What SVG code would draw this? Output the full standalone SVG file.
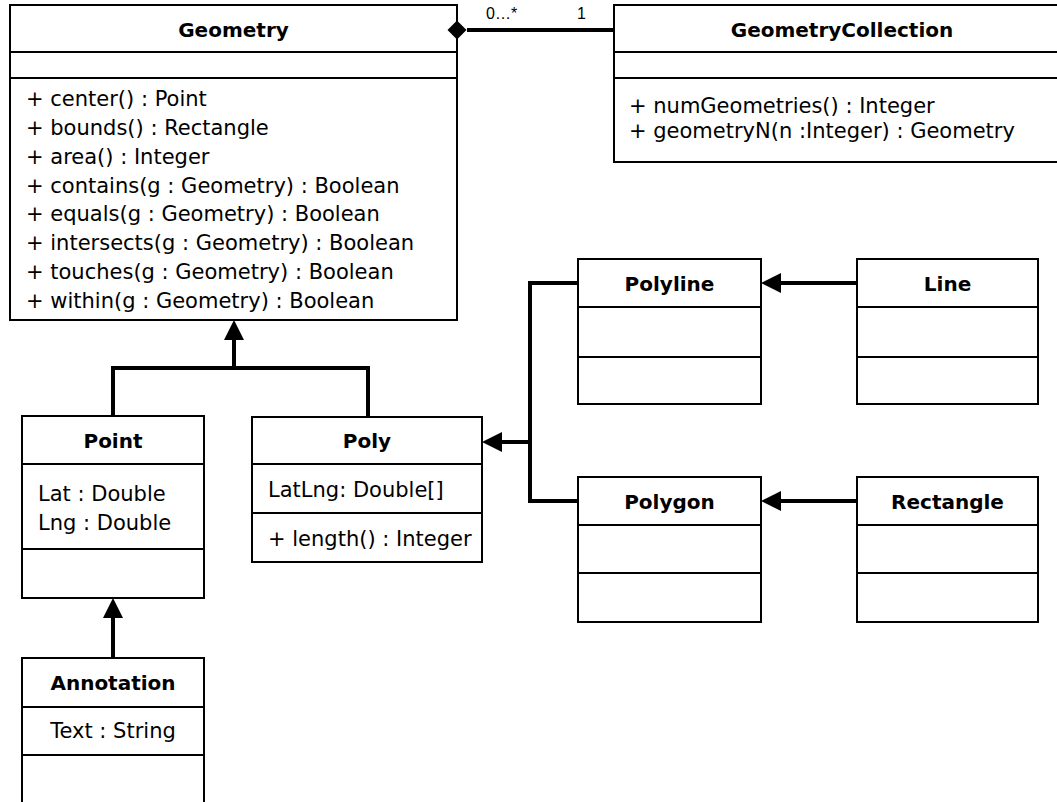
<svg xmlns="http://www.w3.org/2000/svg" width="1057" height="802" viewBox="0 0 1057 802">
  <style>
    .box { fill: #ffffff; stroke: #000000; stroke-width: 2; }
    .sep { stroke: #000000; stroke-width: 2; }
    .title { font-family: "DejaVu Sans", "Liberation Sans", sans-serif; font-weight: bold; font-size: 20px; fill: #000000; text-anchor: middle; }
    .member { font-family: "DejaVu Sans", "Liberation Sans", sans-serif; font-size: 21px; fill: #000000; }
    .mult { font-family: "Liberation Sans", Arial, sans-serif; font-size: 16px; fill: #000000; }
    .conn { fill: none; stroke: #000000; stroke-width: 4; }
  </style>
  <defs>
    <!-- solid triangular head for generalization links, drawn beyond the line end -->
    <marker id="head" viewBox="0 -10 20 20" refX="0" refY="0" markerWidth="20" markerHeight="20" markerUnits="userSpaceOnUse" orient="auto">
      <path d="M0,-10 L20,0 L0,10 z" fill="#000000"/>
    </marker>
  </defs>

  <rect width="1057" height="802" fill="#ffffff"/>

  <!-- Geometry -->
  <g id="geometry">
    <rect class="box" x="10" y="5" width="447" height="315"/>
    <line class="sep" x1="10" y1="52" x2="457" y2="52"/>
    <line class="sep" x1="10" y1="78" x2="457" y2="78"/>
    <text class="title" x="233.5" y="37">Geometry</text>
    <text class="member" x="26" y="106">+ center() : Point</text>
    <text class="member" x="26" y="135">+ bounds() : Rectangle</text>
    <text class="member" x="26" y="164">+ area() : Integer</text>
    <text class="member" x="26" y="193">+ contains(g : Geometry) : Boolean</text>
    <text class="member" x="26" y="221">+ equals(g : Geometry) : Boolean</text>
    <text class="member" x="26" y="250">+ intersects(g : Geometry) : Boolean</text>
    <text class="member" x="26" y="279">+ touches(g : Geometry) : Boolean</text>
    <text class="member" x="26" y="308">+ within(g : Geometry) : Boolean</text>
  </g>

  <!-- GeometryCollection -->
  <g id="geometry-collection">
    <rect class="box" x="614" y="5" width="456" height="157"/>
    <line class="sep" x1="614" y1="52" x2="1070" y2="52"/>
    <line class="sep" x1="614" y1="78" x2="1070" y2="78"/>
    <text class="title" x="842" y="37">GeometryCollection</text>
    <text class="member" x="629" y="113">+ numGeometries() : Integer</text>
    <text class="member" x="629" y="138">+ geometryN(n :Integer) : Geometry</text>
  </g>

  <!-- Point -->
  <g id="point">
    <rect class="box" x="22" y="416" width="182" height="182"/>
    <line class="sep" x1="22" y1="464" x2="204" y2="464"/>
    <line class="sep" x1="22" y1="549" x2="204" y2="549"/>
    <text class="title" x="113" y="448">Point</text>
    <text class="member" x="38" y="501">Lat : Double</text>
    <text class="member" x="38" y="530">Lng : Double</text>
  </g>

  <!-- Poly -->
  <g id="poly">
    <rect class="box" x="252" y="417" width="230" height="145"/>
    <line class="sep" x1="252" y1="464" x2="482" y2="464"/>
    <line class="sep" x1="252" y1="513" x2="482" y2="513"/>
    <text class="title" x="367" y="448">Poly</text>
    <text class="member" x="268" y="497">LatLng: Double[]</text>
    <text class="member" x="268" y="546">+ length() : Integer</text>
  </g>

  <!-- Annotation -->
  <g id="annotation">
    <rect class="box" x="22" y="658" width="182" height="170"/>
    <line class="sep" x1="22" y1="707" x2="204" y2="707"/>
    <line class="sep" x1="22" y1="755" x2="204" y2="755"/>
    <text class="title" x="113" y="690">Annotation</text>
    <text class="member" x="113" y="738" text-anchor="middle">Text : String</text>
  </g>

  <!-- Polyline -->
  <g id="polyline">
    <rect class="box" x="578" y="259" width="183" height="145"/>
    <line class="sep" x1="578" y1="307" x2="761" y2="307"/>
    <line class="sep" x1="578" y1="357" x2="761" y2="357"/>
    <text class="title" x="669.5" y="291">Polyline</text>
  </g>

  <!-- Line -->
  <g id="line">
    <rect class="box" x="857" y="259" width="181" height="145"/>
    <line class="sep" x1="857" y1="307" x2="1038" y2="307"/>
    <line class="sep" x1="857" y1="357" x2="1038" y2="357"/>
    <text class="title" x="947.5" y="291">Line</text>
  </g>

  <!-- Polygon -->
  <g id="polygon">
    <rect class="box" x="578" y="477" width="183" height="145"/>
    <line class="sep" x1="578" y1="525" x2="761" y2="525"/>
    <line class="sep" x1="578" y1="573" x2="761" y2="573"/>
    <text class="title" x="669.5" y="509">Polygon</text>
  </g>

  <!-- Rectangle -->
  <g id="rectangle">
    <rect class="box" x="857" y="477" width="181" height="145"/>
    <line class="sep" x1="857" y1="525" x2="1038" y2="525"/>
    <line class="sep" x1="857" y1="573" x2="1038" y2="573"/>
    <text class="title" x="947.5" y="509">Rectangle</text>
  </g>

  <!-- connectors, drawn over the class boxes so the diamond stays visible -->
  <g id="connectors">
    <path class="conn" d="M467,30 H614"/>
    <polygon points="447.5,30 457,20.5 466.5,30 457,39.5" fill="#000000"/>
    <text class="mult" x="486" y="19">0…*</text>
    <text class="mult" x="577" y="19">1</text>

    <path class="conn" d="M113,416 V368 H368 V417"/>
    <path class="conn" d="M234,370 V340" marker-end="url(#head)"/>

    <path class="conn" d="M113,658 V618" marker-end="url(#head)"/>

    <path class="conn" d="M578,283 H530 V501 H578"/>
    <path class="conn" d="M532,442 H502" marker-end="url(#head)"/>

    <path class="conn" d="M857,283 H781" marker-end="url(#head)"/>
    <path class="conn" d="M857,501 H781" marker-end="url(#head)"/>
  </g>
</svg>
